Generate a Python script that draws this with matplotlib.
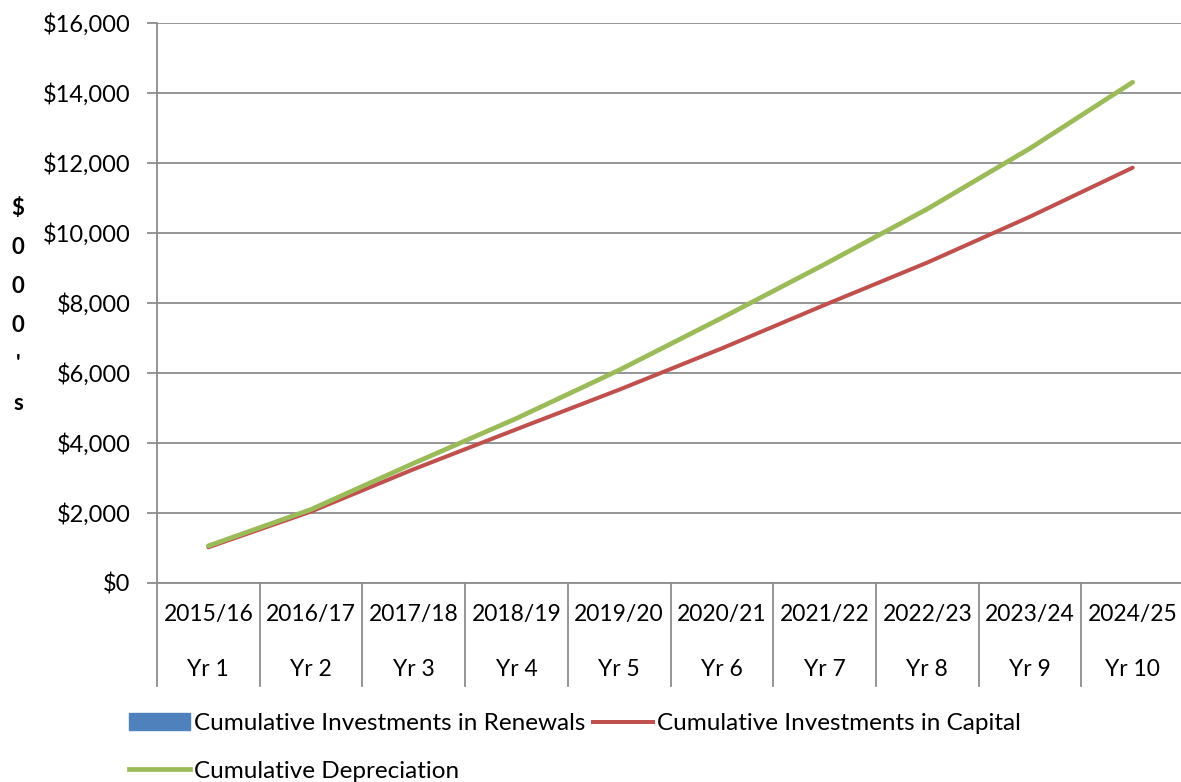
import matplotlib.pyplot as plt
import matplotlib.patches as patches
from matplotlib.lines import Line2D
from matplotlib.ticker import FuncFormatter
import numpy as np

plt.rcParams['font.family'] = ['Lato', 'DejaVu Sans']

# data ($000's)
years = ['2015/16', '2016/17', '2017/18', '2018/19', '2019/20',
         '2020/21', '2021/22', '2022/23', '2023/24', '2024/25']
yr_labels = ['Yr 1', 'Yr 2', 'Yr 3', 'Yr 4', 'Yr 5',
             'Yr 6', 'Yr 7', 'Yr 8', 'Yr 9', 'Yr 10']
renewals = [0, 0, 0, 0, 0, 0, 0, 0, 0, 0]
capital = [1020, 2040, 3250, 4390, 5520, 6700, 7940, 9150, 10460, 11860]
depreciation = [1060, 2100, 3420, 4700, 6080, 7570, 9100, 10680, 12410, 14300]

BLUE = '#4F81BD'
RED = '#C0504D'
GREEN = '#9BBB59'
GRID = '#8C8C8C'

W, H = 1181, 782
fig = plt.figure(figsize=(W / 100, H / 100), dpi=100)
fig.patch.set_facecolor('white')

left, right, top, bottom = 157, 1184, 22.7, 583
ax = fig.add_axes([left / W, 1 - bottom / H, (right - left) / W, (bottom - top) / H])

x = np.arange(len(years))
ax.bar(x, renewals, width=0.6, color=BLUE)
ax.plot(x, capital, color=RED, lw=2.9, solid_capstyle='round', zorder=3)
ax.plot(x, depreciation, color=GREEN, lw=3.4, solid_capstyle='round', zorder=4)

ax.set_xlim(-0.5, 9.5)
ax.set_ylim(0, 16000)
ax.set_yticks(np.arange(0, 16001, 2000))
ax.yaxis.set_major_formatter(FuncFormatter(lambda v, p: '\\${:,.0f}'.format(v)))
ax.grid(axis='y', color=GRID, lw=1.3)
ax.set_axisbelow(True)
ax.set_xticks([])
ax.tick_params(axis='y', length=7, width=1.3, color=GRID, labelsize=17, pad=12)
for s in ['top', 'right']:
    ax.spines[s].set_visible(False)
for s in ['left', 'bottom']:
    ax.spines[s].set_color(GRID)
    ax.spines[s].set_linewidth(1.3)

# two-level category axis
trans = ax.get_xaxis_transform()
ph = bottom - top
for i in range(len(years)):
    ax.text(x[i], -32 / ph, years[i], transform=trans, ha='center', va='center',
            fontsize=16.5, clip_on=False)
    ax.text(x[i], -87 / ph, yr_labels[i], transform=trans, ha='center', va='center',
            fontsize=16.5, clip_on=False)
for b in np.arange(-0.5, 9.6, 1.0):
    ax.add_line(Line2D([b, b], [0, -103 / ph], transform=trans, color=GRID,
                       lw=1.3, clip_on=False))

# y axis title, stacked characters
fig.text(18 / W, 1 - 306 / H, '\\$\n0\n0\n0\n\'\ns',
         ha='center', va='center', fontsize=16, fontweight='bold', linespacing=2.07)

# legend
handles = [patches.Patch(facecolor=BLUE, edgecolor=BLUE),
           Line2D([], [], color=GREEN, lw=3.4),
           Line2D([], [], color=RED, lw=2.9)]
labels = ['Cumulative Investments in Renewals', 'Cumulative Depreciation',
          'Cumulative Investments in Capital']
fig.legend(handles, labels, loc='upper left', bbox_to_anchor=(129 / W, 1 - 713 / H),
           ncol=2, frameon=False, fontsize=17.5, handlelength=2.5, handleheight=0.66,
           handletextpad=0.17, columnspacing=0.3, labelspacing=1.1, borderpad=0,
           borderaxespad=0)

fig.savefig('out.png', dpi=100, facecolor='white')
plt.close(fig)
